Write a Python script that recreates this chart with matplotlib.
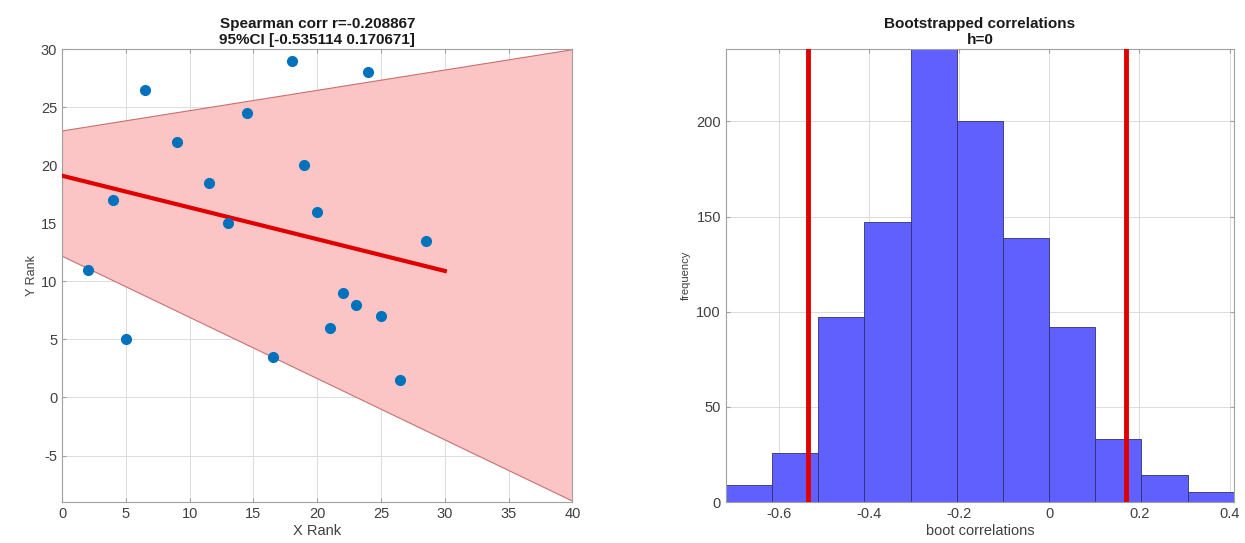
"""Spearman rank correlation with bootstrap CI, MATLAB-style two-panel figure."""
import matplotlib

matplotlib.use("Agg")
import matplotlib.pyplot as plt
import numpy as np

plt.rcParams["font.family"] = ["Liberation Sans", "DejaVu Sans"]
plt.rcParams["axes.unicode_minus"] = False

# ranks of the sample
x_rank = [2, 4, 5, 6.5, 9, 11.5, 13, 14.5, 16.5, 18, 19, 20, 21, 22, 23, 24, 25, 26.5, 28.5]
y_rank = [11, 17, 5, 26.5, 22, 18.5, 15, 24.5, 3.5, 29, 20, 16, 6, 9, 8, 28, 7, 1.5, 13.5]

# fit line and confidence band (end points)
fit_x = [0, 30]
fit_y = [19.1, 10.9]
band_x = [0, 40]
band_hi = [23.0, 30.0]
band_lo = [12.2, -8.9]

# bootstrap histogram
boot_edges = [-0.717, -0.6146, -0.5122, -0.4098, -0.3074, -0.205, -0.1026,
              -0.0002, 0.1022, 0.2046, 0.307, 0.4094]
boot_counts = [9, 26, 97, 147, 238, 200, 139, 92, 33, 14, 5]
ci = [-0.535114, 0.170671]
r_val = -0.208867

_TXT = "#404040"


def matlab_style(ax):
    ax.grid(True, color="#dcdcdc", linewidth=0.7)
    ax.set_axisbelow(True)
    for s in ax.spines.values():
        s.set_color("#a0a0a0")
        s.set_linewidth(0.8)
    ax.tick_params(direction="in", length=3, colors="#a0a0a0", labelcolor=_TXT,
                   labelsize=10.5, top=True, right=True)


fig = plt.figure(figsize=(12.45, 5.43), dpi=100)
ax1 = fig.add_axes([0.0498, 0.0755, 0.410, 0.834])
ax2 = fig.add_axes([0.583, 0.0755, 0.408, 0.834])

# left panel
ax1.fill_between(band_x, band_lo, band_hi, color="#fcc5c5", edgecolor="#c87070",
                 linewidth=0.8, zorder=1)
ax1.plot(fit_x, fit_y, color="#e00000", linewidth=3, zorder=3)
ax1.plot(x_rank, y_rank, "o", color="#0072BD", markersize=7, zorder=4)
ax1.set_xlim(0, 40)
ax1.set_ylim(-9, 30)
ax1.set_xticks(np.arange(0, 41, 5))
ax1.set_yticks(np.arange(-5, 31, 5))
ax1.set_xlabel("X Rank", color=_TXT, fontsize=10.5, labelpad=2)
ax1.set_ylabel("Y Rank", color=_TXT, fontsize=9, labelpad=2)
ax1.set_title(f"Spearman corr r={r_val:.6f}\n95%CI [{ci[0]:.6f} {ci[1]:.6f}]",
              fontsize=11, fontweight="bold", color="#1a1a1a", pad=4, linespacing=1.1)
matlab_style(ax1)

# right panel
ax2.bar(boot_edges[:-1], boot_counts, width=np.diff(boot_edges), align="edge",
        color="#6060ff", edgecolor="#303070", linewidth=0.6, zorder=2)
for v in ci:
    ax2.axvline(v, color="#e00000", linewidth=3.5, zorder=3)
ax2.set_xlim(boot_edges[0], boot_edges[-1])
ax2.set_ylim(0, 238)
ax2.set_xticks([-0.6, -0.4, -0.2, 0, 0.2, 0.4])
ax2.set_xticklabels(["-0.6", "-0.4", "-0.2", "0", "0.2", "0.4"])
ax2.set_yticks([0, 50, 100, 150, 200])
ax2.set_xlabel("boot correlations", color=_TXT, fontsize=10.5, labelpad=2)
ax2.set_ylabel("frequency", color=_TXT, fontsize=8, labelpad=4)
ax2.set_title("Bootstrapped correlations\nh=0", fontsize=11, fontweight="bold",
              color="#1a1a1a", pad=4, linespacing=1.1)
matlab_style(ax2)

fig.savefig("out.png", dpi=100)
